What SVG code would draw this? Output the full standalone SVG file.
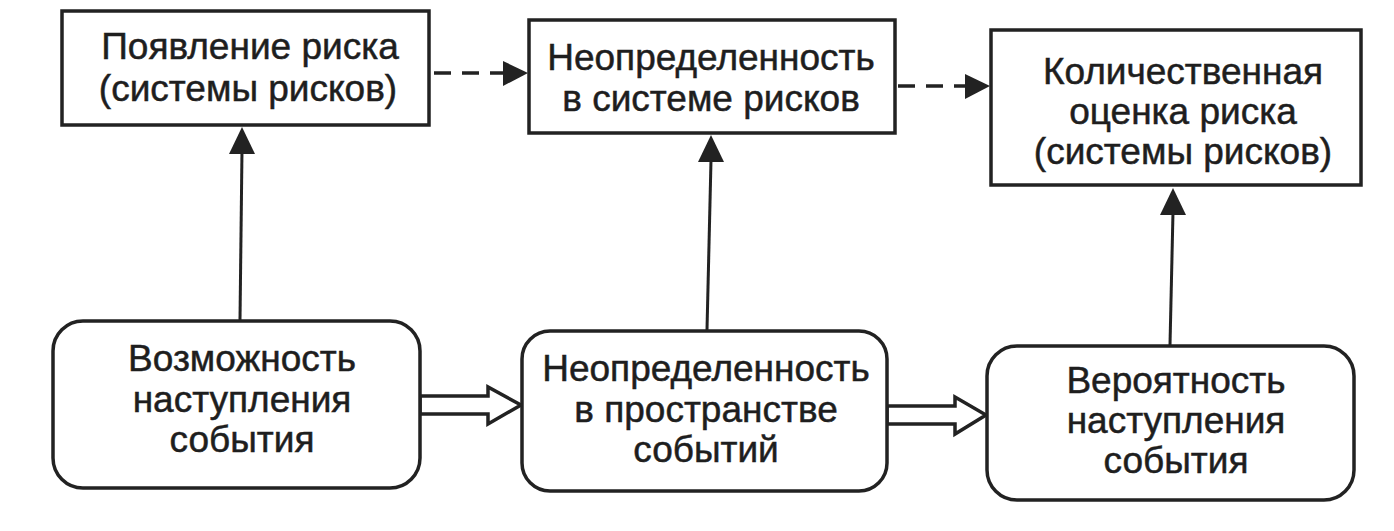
<svg xmlns="http://www.w3.org/2000/svg" width="1394" height="531" viewBox="0 0 1394 531">
<style>
.box{fill:#fff;stroke:#222;stroke-width:3.5}
.t{font-family:"Liberation Sans",Arial,sans-serif;font-size:37px;fill:#1e1e1e;stroke:#1e1e1e;stroke-width:0.5;text-anchor:middle}
.ln{stroke:#222;stroke-width:3;fill:none}
.dash{stroke:#222;stroke-width:3.5;fill:none;stroke-dasharray:17 11}
.head{fill:#222;stroke:none}
.hollow{fill:#fff;stroke:#222;stroke-width:3.5;stroke-linejoin:miter}
</style>
<rect width="1394" height="531" fill="#fff"/>
<g id="connectors">
  <line class="ln" x1="240" y1="320" x2="242" y2="150"/>
  <polygon class="head" points="242,127 229,154 255,154"/>
  <line class="ln" x1="707" y1="330" x2="711" y2="160"/>
  <polygon class="head" points="711,135 698,162 724,162"/>
  <line class="ln" x1="1170" y1="345" x2="1173" y2="212"/>
  <polygon class="head" points="1173,188 1160,215 1186,215"/>
  <line class="dash" x1="434" y1="73" x2="506" y2="73"/>
  <polygon class="head" points="528,73 503,61 503,86"/>
  <line class="dash" x1="898" y1="86" x2="968" y2="86"/>
  <polygon class="head" points="990,86 965,74 965,99"/>
  <path class="hollow" d="M420,396 L488,396 L488,387 L521,405 L488,424 L488,414 L420,414 Z"/>
  <path class="hollow" d="M887,406 L955,406 L955,397 L986,415 L955,434 L955,424 L887,424 Z"/>
</g>
<g id="n1">
  <rect class="box" x="62" y="11" width="367" height="114"/>
  <text class="t" x="250" y="59">Появление риска</text>
  <text class="t" x="248" y="101">(системы рисков)</text>
</g>
<g id="n2">
  <rect class="box" x="529" y="20" width="366" height="113"/>
  <text class="t" x="711" y="70">Неопределенность</text>
  <text class="t" x="711" y="111">в системе рисков</text>
</g>
<g id="n3">
  <rect class="box" x="991" y="30" width="370" height="155"/>
  <text class="t" x="1183" y="84">Количественная</text>
  <text class="t" x="1183" y="124">оценка риска</text>
  <text class="t" x="1183" y="164">(системы рисков)</text>
</g>
<g id="n4">
  <rect class="box" x="53" y="321" width="367" height="167" rx="30" ry="30"/>
  <text class="t" x="242" y="371">Возможность</text>
  <text class="t" x="242" y="412">наступления</text>
  <text class="t" x="242" y="452">события</text>
</g>
<g id="n5">
  <rect class="box" x="522" y="331" width="365" height="160" rx="28" ry="28"/>
  <text class="t" x="706" y="381">Неопределенность</text>
  <text class="t" x="706" y="422">в пространстве</text>
  <text class="t" x="706" y="462">событий</text>
</g>
<g id="n6">
  <rect class="box" x="987" y="346" width="367" height="154" rx="30" ry="30"/>
  <text class="t" x="1176" y="393">Вероятность</text>
  <text class="t" x="1176" y="433">наступления</text>
  <text class="t" x="1176" y="473">события</text>
</g>
</svg>
